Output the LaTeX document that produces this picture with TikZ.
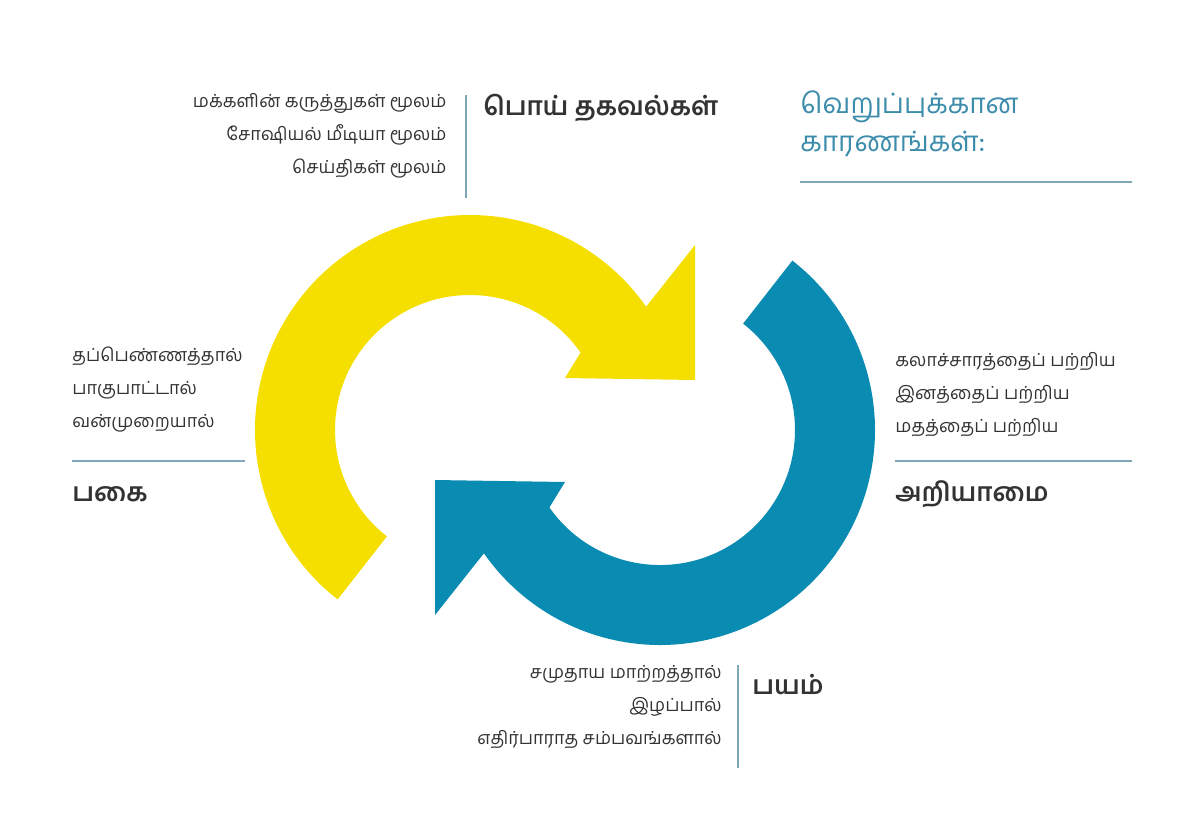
\documentclass[tikz,border=0pt]{standalone}
\usepackage{fontspec}
\usetikzlibrary{calc}
\newfontfamily\tamil[Script=Tamil]{Hind Madurai}
\definecolor{sunyellow}{HTML}{F5DF00}
\definecolor{seablue}{HTML}{0A8BB1}
\definecolor{headblue}{HTML}{3C8CAC}
\definecolor{inkgray}{HTML}{333333}
\definecolor{rulegray}{HTML}{7FA7B8}
\tikzset{
  item/.style={font=\tamil\fontsize{9}{16.5}\selectfont, text=inkgray, inner sep=0pt},
  title/.style={font=\tamil\bfseries\fontsize{13}{16}\selectfont, text=inkgray, inner sep=0pt, anchor=west},
  rule/.style={rulegray, line width=0.6pt}
}
\begin{document}
\begin{tikzpicture}[x=0.5pt,y=-0.5pt]
            \useasboundingbox (0,0) rectangle (1200,821);

            % Yellow arrow
            \fill[sunyellow] (470,430) ++(128:215) arc (128:325:215)
              -- (695,245) -- (695,380) -- (565,378)
              -- ($(470,430)+(325:135)$) arc (325:128:135) -- cycle;

            % Blue arrow
            \fill[seablue] (660,430) ++(308:215) arc (308:505:215)
              -- (435,615) -- (435,480) -- (565,482)
              -- ($(660,430)+(505:135)$) arc (505:308:135) -- cycle;

            % Heading
            \node[anchor=north west, font=\tamil\fontsize{14}{19}\selectfont, text=headblue, align=left, inner sep=0pt] (heading) at (800,90) {வெறுப்புக்கான\\காரணங்கள்:};
            \draw[rule] (800,182) -- (1132,182);

            % False information
            \node[item, align=right, anchor=north east] (mediaList) at (447,93) {மக்களின் கருத்துகள் மூலம்\\சோஷியல் மீடியா மூலம்\\செய்திகள் மூலம்};
            \draw[rule] (466,95) -- (466,198);
            \node[title] (falseInfo) at (483,108) {பொய் தகவல்கள்};

            % Ignorance
            \node[item, align=left, anchor=north west] (ignoreList) at (895,352) {கலாச்சாரத்தைப் பற்றிய\\இனத்தைப் பற்றிய\\மதத்தைப் பற்றிய};
            \draw[rule] (895,461) -- (1132,461);
            \node[title] (ignorance) at (895,494) {அறியாமை};

            % Hostility
            \node[item, align=left, anchor=north west] (hateList) at (72,347) {தப்பெண்ணத்தால்\\பாகுபாட்டால்\\வன்முறையால்};
            \draw[rule] (72,461) -- (245,461);
            \node[title] (hostility) at (72,494) {பகை};

            % Fear
            \node[item, align=right, anchor=north east] (fearList) at (722,665) {சமுதாய மாற்றத்தால்\\இழப்பால்\\எதிர்பாராத சம்பவங்களால்};
            \draw[rule] (738,665) -- (738,768);
            \node[title] (fear) at (752,684) {பயம்};
\end{tikzpicture}
\end{document}
